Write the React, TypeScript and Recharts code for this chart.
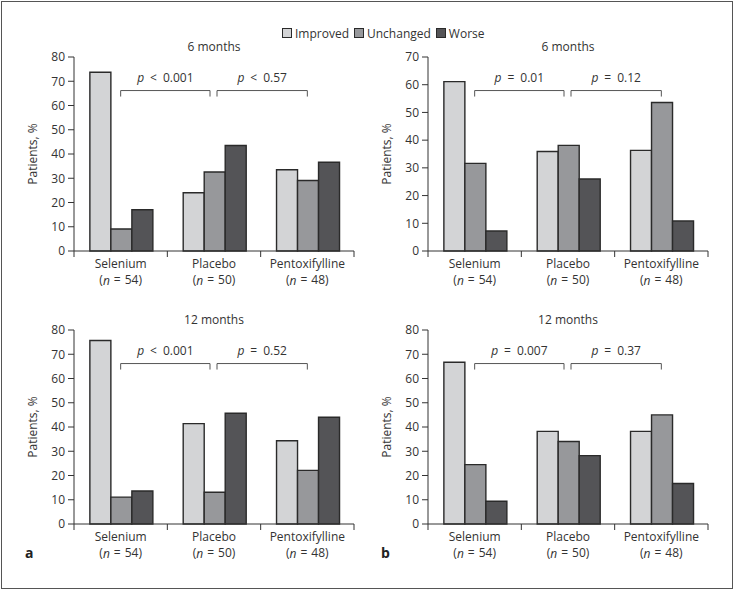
import React from 'react';
import { BarChart, Bar, XAxis, YAxis, ReferenceLine } from 'recharts';

// ---------- data ----------
const groups = ['Selenium', 'Placebo', 'Pentoxifylline'];
const groupN = [54, 50, 48];
const seriesNames = ['Improved', 'Unchanged', 'Worse'];
const seriesColors = ['#d3d4d6', '#97989b', '#545457'];

// panel a, 6 months
const a6Improved = [73.7, 24.0, 33.5];
const a6Unchanged = [9.1, 32.6, 29.1];
const a6Worse = [17.0, 43.5, 36.6];
// panel b, 6 months
const b6Improved = [61.1, 35.9, 36.3];
const b6Unchanged = [31.6, 38.1, 53.6];
const b6Worse = [7.2, 26.0, 10.8];
// panel a, 12 months
const a12Improved = [75.7, 41.4, 34.3];
const a12Unchanged = [11.1, 13.1, 22.1];
const a12Worse = [13.6, 45.7, 44.0];
// panel b, 12 months
const b12Improved = [66.7, 38.2, 38.2];
const b12Unchanged = [24.5, 34.0, 45.0];
const b12Worse = [9.4, 28.2, 16.7];

const ticks80 = [0, 10, 20, 30, 40, 50, 60, 70, 80];
const ticks70 = [0, 10, 20, 30, 40, 50, 60, 70];

const pA6 = [['<', '0.001'], ['<', '0.57']];
const pB6 = [['=', '0.01'], ['=', '0.12']];
const pA12 = [['<', '0.001'], ['=', '0.52']];
const pB12 = [['=', '0.007'], ['=', '0.37']];

const build = (imp: number[], unc: number[], wor: number[]) =>
  groups.map((g, i) => ({ group: g, Improved: imp[i], Unchanged: unc[i], Worse: wor[i] }));

// ---------- style ----------
const FONT = "'Open Sans', 'Noto Sans', sans-serif";
const TXT = '#333';
const AXIS = '#333';
const FS = 12;
const CHART_W = 368;
const CHART_H = 300;
const MARGIN = { top: 57, right: 14, bottom: 9, left: 0 };
const YAXIS_W = 74;
const PLOT_W = CHART_W - MARGIN.right - MARGIN.left - YAXIS_W;
const HALF_BAND = PLOT_W / groups.length / 2;
const BRACKET_FRAC = 0.827;
const SP = '\u2004';
const PSP = '\u2002';

const CatTick = (props: any) => {
  const { x, y, payload } = props;
  const idx = payload.index ?? groups.indexOf(payload.value);
  const half = payload.offset || HALF_BAND;
  const last = idx === groups.length - 1;
  return (
    <g>
      <line x1={x - half} x2={x - half} y1={y} y2={y + 6} stroke={AXIS} strokeWidth={1} />
      {last && <line x1={x + half} x2={x + half} y1={y} y2={y + 6} stroke={AXIS} strokeWidth={1} />}
      <text x={x} y={y + 12.8} textAnchor="middle" dominantBaseline="central" fontFamily={FONT} fontSize={FS} fill={TXT}>
        {payload.value}
      </text>
      <text x={x} y={y + 28.6} textAnchor="middle" dominantBaseline="central" fontFamily={FONT} fontSize={FS} fill={TXT}>
        (<tspan fontStyle="italic">n</tspan>{`${SP}=${SP}${groupN[idx]}`})
      </text>
    </g>
  );
};

const bracket = (label: string[], shrinkL: number, shrinkR: number) => (props: any) => {
  const { x1, y1, x2 } = props;
  const xa = x1 + shrinkL;
  const xb = x2 - shrinkR;
  return (
    <g>
      <path d={`M${xa},${y1 + 6}V${y1}H${xb}V${y1 + 6}`} fill="none" stroke="#555" strokeWidth={1} />
      <text x={(xa + xb) / 2} y={y1 - 13.5} textAnchor="middle" dominantBaseline="central" fontFamily={FONT} fontSize={FS} fill={TXT}>
        <tspan fontStyle="italic">p</tspan>{`${PSP}${label[0]}${PSP}${label[1]}`}
      </text>
    </g>
  );
};

type PanelProps = {
  data: any[];
  yMax: number;
  ticks: number[];
  pv: string[][];
  left: number;
  top: number;
  title: string;
};

const Panel = ({ data, yMax, ticks, pv, left, top, title }: PanelProps) => {
  const by = yMax * BRACKET_FRAC;
  return (
    <div style={{ position: 'absolute', left, top, width: CHART_W, height: CHART_H }}>
      <div
        style={{
          position: 'absolute',
          left: YAXIS_W,
          width: PLOT_W,
          top: 39,
          height: 16,
          lineHeight: '16px',
          textAlign: 'center',
          fontFamily: FONT,
          fontSize: FS,
          color: TXT,
        }}
      >
        {title}
      </div>
      <BarChart width={CHART_W} height={CHART_H} data={data} margin={MARGIN} barCategoryGap="17%" barGap={0}>
        <XAxis
          dataKey="group"
          height={40}
          interval={0}
          tickSize={0}
          tickMargin={0}
          tickLine={false}
          axisLine={{ stroke: AXIS, strokeWidth: 1 }}
          tick={<CatTick />}
        />
        <YAxis
          width={YAXIS_W}
          domain={[0, yMax]}
          ticks={ticks}
          interval={0}
          tickSize={6}
          tickMargin={3}
          axisLine={{ stroke: AXIS, strokeWidth: 1 }}
          tickLine={{ stroke: AXIS, strokeWidth: 1 }}
          tick={{ fill: TXT, fontSize: FS, fontFamily: FONT }}
          label={{ value: 'Patients, %', angle: -90, position: 'center', dx: -4, style: { fill: TXT, fontSize: FS, fontFamily: FONT } }}
        />
        {seriesNames.map((s, i) => (
          <Bar key={s} dataKey={s} fill={seriesColors[i]} stroke="#2a2a2a" strokeWidth={1.4} isAnimationActive={false} />
        ))}
        <ReferenceLine
          segment={[{ x: groups[0], y: by }, { x: groups[1], y: by }]}
          shape={bracket(pv[0], 0, 4)}
          ifOverflow="visible"
        />
        <ReferenceLine
          segment={[{ x: groups[1], y: by }, { x: groups[2], y: by }]}
          shape={bracket(pv[1], 3, 0)}
          ifOverflow="visible"
        />
      </BarChart>
    </div>
  );
};

const Legend = () => (
  <div
    style={{
      position: 'absolute',
      left: 282,
      top: 26,
      height: 14,
      display: 'flex',
      alignItems: 'center',
      fontFamily: FONT,
      fontSize: FS,
      color: TXT,
    }}
  >
    {seriesNames.map((s, i) => (
      <div key={s} style={{ display: 'flex', alignItems: 'center', marginRight: 5 }}>
        <div style={{ width: 10, height: 10, boxSizing: 'border-box', border: '1px solid #2a2a2a', background: seriesColors[i], marginRight: 3 }} />
        <span>{s}</span>
      </div>
    ))}
  </div>
);

const PanelLetter = ({ text, left }: { text: string; left: number }) => (
  <div
    style={{
      position: 'absolute',
      left,
      top: 544,
      lineHeight: '18px',
      fontFamily: FONT,
      fontSize: 14,
      fontWeight: 700,
      color: '#222',
    }}
  >
    {text}
  </div>
);

export default function App() {
  return (
    <div style={{ position: 'absolute', left: 0, top: 0, width: 735, height: 590, background: '#fff', overflow: 'hidden' }}>
      <div style={{ position: 'absolute', left: 1, top: 1, width: 732, height: 588, boxSizing: 'border-box', border: '1px solid #555' }} />
      <Legend />
      <Panel data={build(a6Improved, a6Unchanged, a6Worse)} yMax={80} ticks={ticks80} pv={pA6} left={0} top={0} title="6 months" />
      <Panel data={build(b6Improved, b6Unchanged, b6Worse)} yMax={70} ticks={ticks70} pv={pB6} left={354} top={0} title="6 months" />
      <Panel data={build(a12Improved, a12Unchanged, a12Worse)} yMax={80} ticks={ticks80} pv={pA12} left={0} top={273} title="12 months" />
      <Panel data={build(b12Improved, b12Unchanged, b12Worse)} yMax={80} ticks={ticks80} pv={pB12} left={354} top={273} title="12 months" />
      <PanelLetter text="a" left={25} />
      <PanelLetter text="b" left={381} />
    </div>
  );
}
